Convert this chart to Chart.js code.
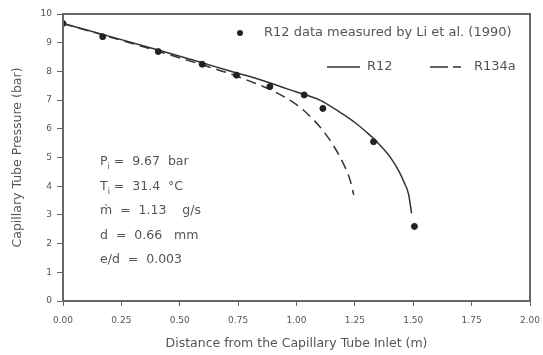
<!DOCTYPE html>
<html><head><meta charset="utf-8">
<script src="https://cdn.jsdelivr.net/npm/chart.js@4/dist/chart.umd.min.js"></script>
<style>html,body{margin:0;padding:0;background:#fff}canvas{display:block}</style>
</head><body>
<canvas id="c" width="543" height="355"></canvas>
<script>
// ---- data ----
const measuredX = [0.0, 0.17, 0.408, 0.596, 0.743, 0.886, 1.033, 1.113, 1.330, 1.505];
const measuredY = [9.67, 9.21, 8.69, 8.25, 7.87, 7.47, 7.18, 6.71, 5.55, 2.60];
const r12X = [0.0, 0.2, 0.4, 0.6, 0.7, 0.8, 0.9, 1.0, 1.1, 1.2, 1.25, 1.3, 1.35, 1.4, 1.44, 1.46, 1.48, 1.493];
const r12Y = [9.67, 9.22, 8.76, 8.29, 8.05, 7.82, 7.56, 7.28, 7.0, 6.5, 6.22, 5.88, 5.5, 5.03, 4.5, 4.15, 3.72, 3.05];
const r134aX = [0.0, 0.2, 0.4, 0.6, 0.7, 0.8, 0.9, 1.0, 1.05, 1.1, 1.15, 1.2, 1.23, 1.245];
const r134aY = [9.67, 9.2, 8.72, 8.22, 7.96, 7.66, 7.32, 6.84, 6.5, 6.07, 5.52, 4.8, 4.2, 3.7];
const xTicks = [0, 0.25, 0.5, 0.75, 1.0, 1.25, 1.5, 1.75, 2.0];
const yTicks = [0, 1, 2, 3, 4, 5, 6, 7, 8, 9, 10];
const legendLabels = ['R12 data measured by Li et al. (1990)', 'R12', 'R134a'];
const annotLines = [
  ['P', 'i', ' =  9.67  bar'],
  ['T', 'i', ' =  31.4  °C'],
  ['ṁ', '', '  =  1.13    g/s'],
  ['d', '', '  =  0.66   mm'],
  ['e/d', '', '  =  0.003']
];
const axisTitleX = 'Distance from the Capillary Tube Inlet (m)';
const axisTitleY = 'Capillary Tube Pressure (bar)';

const pts = (xs, ys) => xs.map((x, i) => ({x: x, y: ys[i]}));
const FONT = "'DejaVu Sans', Verdana, sans-serif";
const TXT = '#555';
const AX = '#666';

const framePlugin = {
  id: 'frame',
  afterDraw(chart) {
    const {ctx, chartArea: a} = chart;
    ctx.save();
    ctx.strokeStyle = AX; ctx.lineWidth = 2;
    ctx.strokeRect(a.left, a.top, a.right - a.left, a.bottom - a.top);
    // legend
    ctx.fillStyle = '#222';
    ctx.beginPath(); ctx.arc(240, 33, 3, 0, Math.PI * 2); ctx.fill();
    ctx.font = '13px ' + FONT; ctx.fillStyle = TXT; ctx.textBaseline = 'middle';
    ctx.fillText(legendLabels[0], 264, 33);
    ctx.strokeStyle = '#333'; ctx.lineWidth = 1.5;
    ctx.beginPath(); ctx.moveTo(327, 67); ctx.lineTo(360, 67); ctx.stroke();
    ctx.fillText(legendLabels[1], 367, 67);
    ctx.setLineDash([18, 5, 8, 100]);
    ctx.beginPath(); ctx.moveTo(430, 67); ctx.lineTo(462, 67); ctx.stroke();
    ctx.setLineDash([]);
    ctx.fillText(legendLabels[2], 474, 67);
    // annotation
    let y = 162;
    annotLines.forEach(l => {
      let x = 100;
      ctx.font = '12.5px ' + FONT;
      ctx.fillText(l[0], x, y); x += ctx.measureText(l[0]).width;
      if (l[1]) { ctx.font = '8px ' + FONT; ctx.fillText(l[1], x, y + 5); x += ctx.measureText(l[1]).width; }
      ctx.font = '12.5px ' + FONT;
      ctx.fillText(l[2], x, y);
      y += 24.5;
    });
    ctx.restore();
  }
};

new Chart(document.getElementById('c'), {
  type: 'scatter',
  data: {
    datasets: [
      { label: legendLabels[0], data: pts(measuredX, measuredY), showLine: false,
        pointRadius: 3, pointBackgroundColor: '#222', pointBorderColor: '#222', order: 0 },
      { label: legendLabels[1], data: pts(r12X, r12Y), showLine: true, pointRadius: 0,
        borderColor: '#333', borderWidth: 1.5, cubicInterpolationMode: 'monotone', order: 1 },
      { label: legendLabels[2], data: pts(r134aX, r134aY), showLine: true, pointRadius: 0,
        borderColor: '#333', borderWidth: 1.5, borderDash: [10, 6], cubicInterpolationMode: 'monotone', order: 2 }
    ]
  },
  options: {
    responsive: false, animation: false, devicePixelRatio: 1,
    layout: { padding: { top: 14, right: 13, left: 0, bottom: 0 } },
    plugins: { legend: { display: false }, tooltip: { enabled: false } },
    scales: {
      x: {
        type: 'linear', min: 0, max: 2,
        afterBuildTicks: s => { s.ticks = xTicks.map(v => ({value: v})); },
        afterFit: s => { s.height = 54; s.paddingLeft = 0; s.paddingRight = 0; },
        grid: { drawOnChartArea: false, tickLength: 5, tickColor: AX, color: AX },
        border: { display: false },
        ticks: { color: TXT, font: { family: FONT, size: 9 }, padding: 9, maxRotation: 0,
                 callback: v => Number(v).toFixed(2) },
        title: { display: true, text: axisTitleX, color: TXT, font: { family: FONT, size: 12.5 }, padding: { top: 4 } }
      },
      y: {
        type: 'linear', min: 0, max: 10,
        afterBuildTicks: s => { s.ticks = yTicks.map(v => ({value: v})); },
        afterFit: s => { s.width = 63; s.paddingTop = 0; s.paddingBottom = 0; },
        grid: { drawOnChartArea: false, tickLength: 6, tickColor: AX, color: AX },
        border: { display: false },
        ticks: { color: TXT, font: { family: FONT, size: 9 }, padding: 5 },
        title: { display: true, text: axisTitleY, color: TXT, font: { family: FONT, size: 12.5 }, padding: { top: 10, bottom: 8 } }
      }
    }
  },
  plugins: [framePlugin]
});
</script>
</body></html>
